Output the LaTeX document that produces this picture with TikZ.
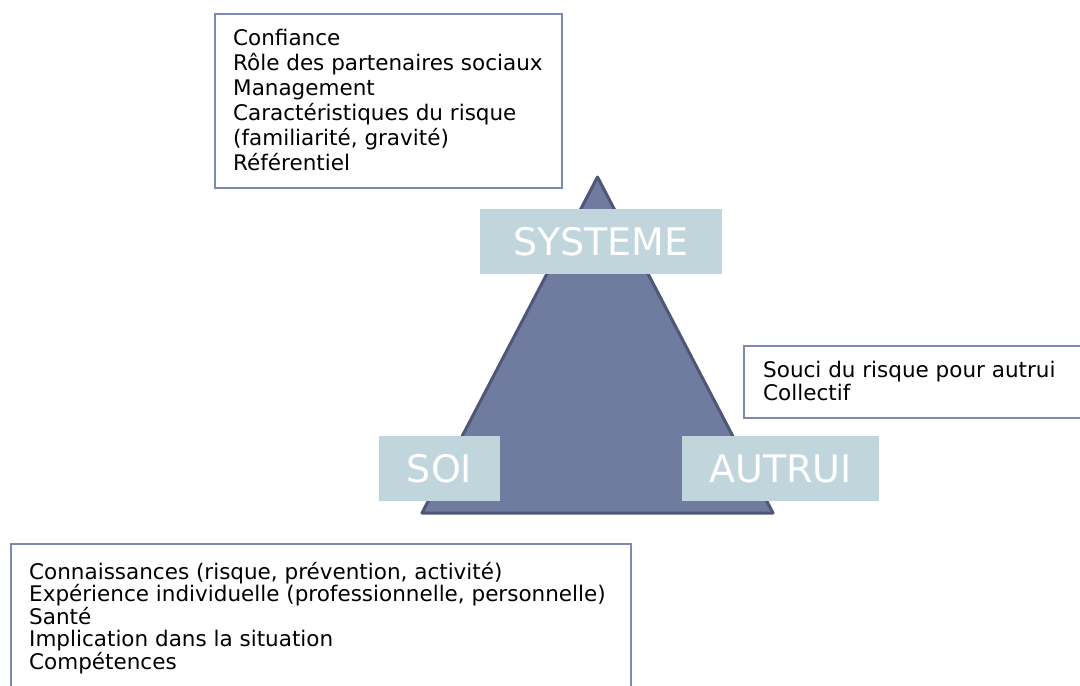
\documentclass[tikz,border=0pt]{standalone}
\usepackage{fontspec}
\setmainfont{DejaVu Sans}
\definecolor{trifill}{HTML}{707BA0}
\definecolor{triedge}{HTML}{4E5778}
\definecolor{lblfill}{HTML}{C1D5DC}
\definecolor{boxedge}{HTML}{7F89AF}
\begin{document}
\begin{tikzpicture}[x=1pt, y=-1pt,
    infobox/.style={draw=boxedge, line width=1.5pt, fill=white, anchor=north west, inner sep=0pt},
    infotext/.style={align=left, anchor=north west, inner sep=0pt, font=\fontsize{21.5}{25}\selectfont},
    cornerlbl/.style={fill=lblfill, text=white, inner sep=0pt, minimum height=65pt, font=\fontsize{38}{40}\selectfont}]

    % Page frame
    \useasboundingbox (0,0) rectangle (1080,686);
    \clip (0,0) rectangle (1080,686);

    % Triangle
    \coordinate (apex) at (597.5,177);
    \coordinate (baseL) at (422,513);
    \coordinate (baseR) at (773,513);
    \draw[triedge, fill=trifill, line width=3pt, line join=round] (apex) -- (baseL) -- (baseR) -- cycle;

    % Corner labels
    \node[cornerlbl, minimum width=242pt] (systeme) at (601,241.5) {SYSTEME};
    \node[cornerlbl, minimum width=121pt] (soi) at (439.5,468.5) {SOI};
    \node[cornerlbl, minimum width=197pt] (autrui) at (780.5,468.5) {AUTRUI};

    % Box for the system side
    \node[infobox, minimum width=347pt, minimum height=174pt] (sysbox) at (214,13) {};
    \node[infotext] (systext) at (233,29) {Confiance\\Rôle des partenaires sociaux\\Management\\Caractéristiques du risque\\(familiarité, gravité)\\Référentiel};

    % Box for the others side
    \node[infobox, minimum width=400pt, minimum height=72pt] (autbox) at (743,345) {};
    \node[infotext, font=\fontsize{21.5}{23}\selectfont] (auttext) at (763,361) {Souci du risque pour autrui\\Collectif};

    % Box for the self side
    \node[infobox, minimum width=620pt, minimum height=200pt] (soibox) at (10,543) {};
    \node[infotext, font=\fontsize{21.5}{22.5}\selectfont] (soitext) at (29,562) {Connaissances (risque, prévention, activité)\\Expérience individuelle (professionnelle, personnelle)\\Santé\\Implication dans la situation\\Compétences};

\end{tikzpicture}
\end{document}
